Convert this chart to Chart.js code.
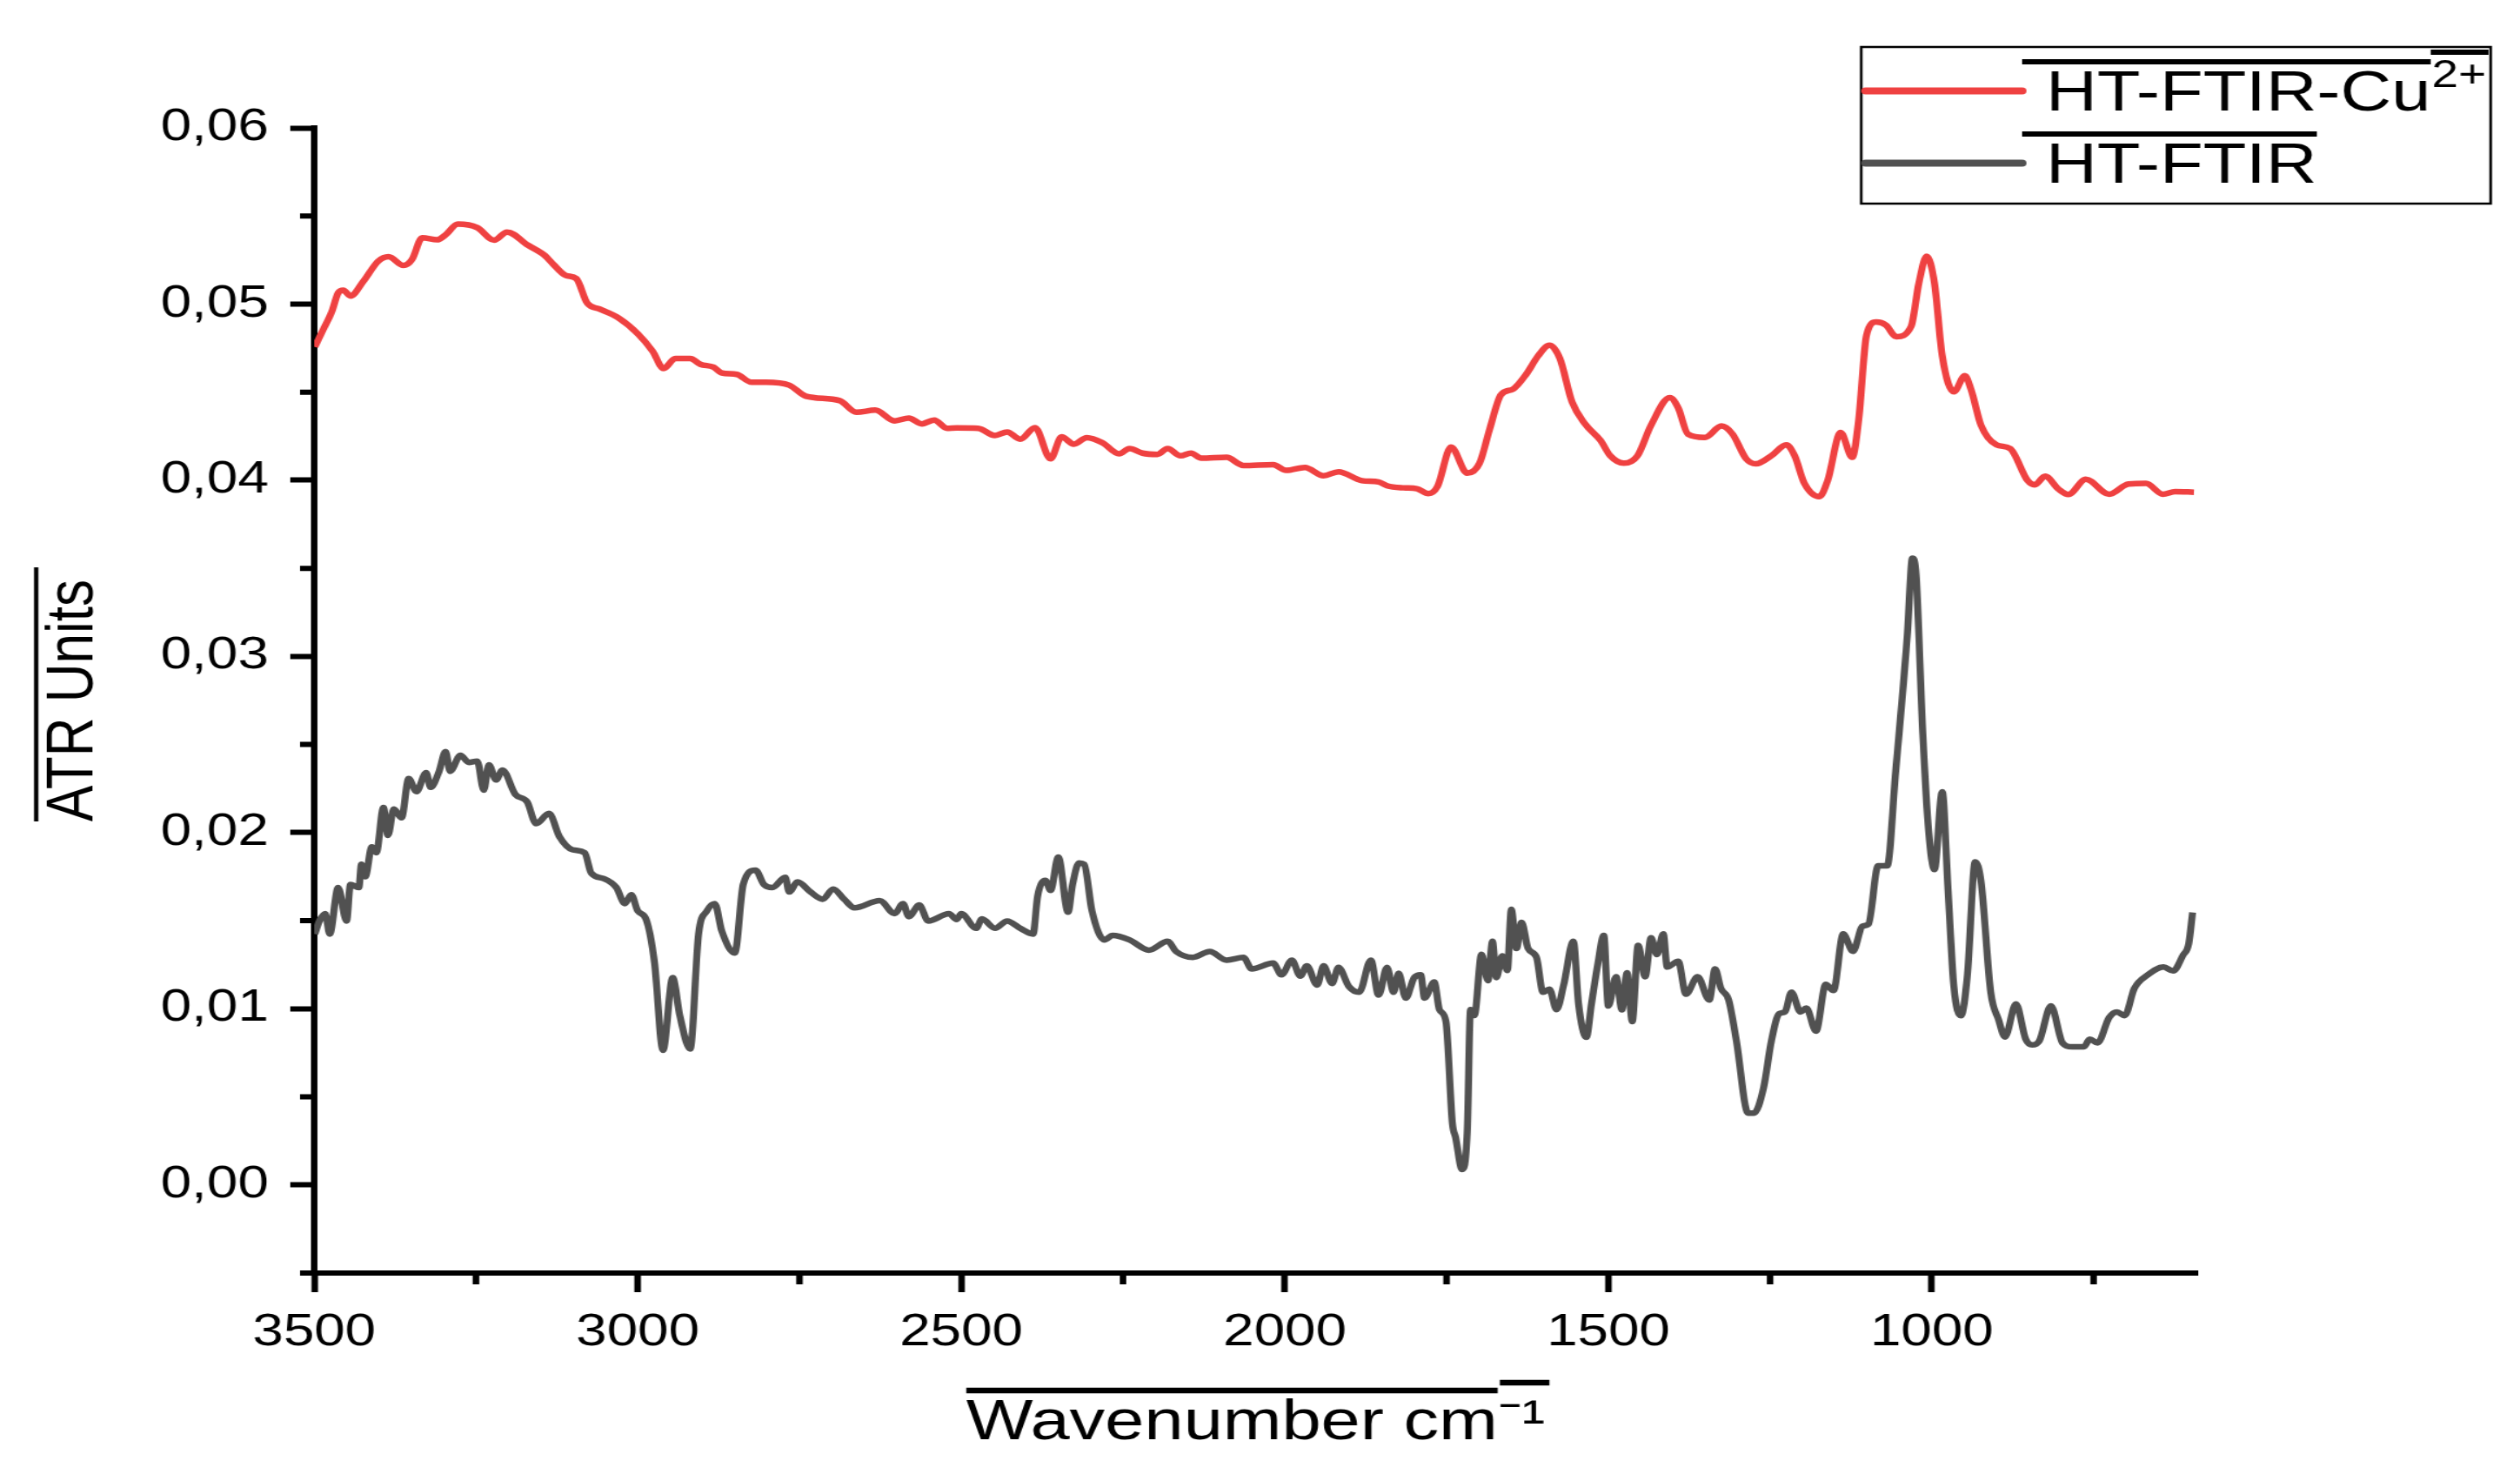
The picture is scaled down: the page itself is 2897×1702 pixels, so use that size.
<!DOCTYPE html>
<html>
<head>
<meta charset="utf-8">
<title>HT-FTIR ATR spectra</title>
<script src="https://cdn.jsdelivr.net/npm/chart.js@4.4.1/dist/chart.umd.min.js"></script>
<style>
  html, body { margin: 0; padding: 0; background: #fff; }
</style>
</head>
<body>
<!-- drawn a bit narrow and stretched sideways, like the Origin export -->
<canvas id="spectrum" width="2318" height="1702" style="display:block;width:2897px;height:1702px"></canvas>
<script>
// wavenumbers (cm-1) and ATR units
const cuWavenumber = [3499, 3486, 3473, 3463, 3455, 3444, 3424, 3401, 3385, 3362, 3349, 3333, 3310, 3297, 3278, 3248,
  3222, 3202, 3170, 3144, 3131, 3111, 3095, 3078, 3059, 3030, 3000, 2977, 2960, 2942, 2919, 2903, 2883, 2870, 2847,
  2824, 2802, 2766, 2740, 2688, 2662, 2633, 2603, 2581, 2561, 2542, 2522, 2507, 2474, 2448, 2429, 2409, 2386, 2362,
  2345, 2326, 2306, 2282, 2256, 2240, 2220, 2197, 2181, 2161, 2145, 2129, 2090, 2064, 2018, 1998, 1969, 1940, 1917,
  1881, 1855, 1842, 1816, 1796, 1778, 1764, 1743, 1718, 1699, 1683, 1666, 1647, 1627, 1608, 1591, 1575, 1556, 1536,
  1512, 1497, 1476, 1455, 1434, 1405, 1392, 1377, 1351, 1325, 1308, 1287, 1272, 1248, 1225, 1212, 1197, 1174, 1161,
  1141, 1123, 1113, 1101, 1086, 1071, 1055, 1032, 1020, 1008, 996, 984, 966, 949, 939, 924, 900, 879, 852, 841, 825,
  804, 789, 762, 726, 696, 669, 643, 624, 595];
const cuAbs = [0.04757, 0.04856, 0.04955, 0.05063, 0.05079, 0.05046, 0.05129, 0.05244, 0.05269, 0.05219, 0.05252,
  0.05376, 0.05365, 0.05393, 0.05454, 0.05434, 0.05363, 0.05409, 0.05335, 0.05277, 0.05228, 0.05162, 0.05145, 0.05005,
  0.04972, 0.04922, 0.04832, 0.04733, 0.04634, 0.04691, 0.04691, 0.04658, 0.04642, 0.04609, 0.04601, 0.04556, 0.04556,
  0.0454, 0.04477, 0.04452, 0.04386, 0.04398, 0.04337, 0.04353, 0.0432, 0.04342, 0.04295, 0.04297, 0.04295, 0.04254,
  0.04274, 0.04233, 0.04299, 0.04122, 0.04246, 0.04205, 0.04242, 0.04213, 0.0415, 0.0418, 0.04154, 0.04147, 0.0418,
  0.04139, 0.04154, 0.04125, 0.0413, 0.04084, 0.04089, 0.04056, 0.04073, 0.04026, 0.04048, 0.03998, 0.0399, 0.03969,
  0.03957, 0.03952, 0.03924, 0.03965, 0.04188, 0.0404, 0.04097, 0.04295, 0.04485, 0.04518, 0.04601, 0.04708, 0.04766,
  0.04692, 0.04444, 0.0432, 0.04226, 0.04139, 0.04097, 0.04139, 0.04312, 0.04469, 0.04411, 0.04262, 0.04243, 0.04308,
  0.04262, 0.04122, 0.04093, 0.04139, 0.04201, 0.04139, 0.03982, 0.03907, 0.03998, 0.04271, 0.0413, 0.04345, 0.04823,
  0.04898, 0.04881, 0.04815, 0.04873, 0.0512, 0.05272, 0.0512, 0.04708, 0.04502, 0.04593, 0.0451, 0.04312, 0.04201,
  0.0418, 0.03998, 0.03974, 0.04023, 0.03949, 0.03919, 0.04006, 0.03921, 0.03979, 0.03982, 0.03921, 0.03936, 0.03932];

const htWavenumber = [3499, 3492, 3483, 3476, 3463, 3450, 3444, 3431, 3427, 3421, 3411, 3404, 3393, 3386, 3377, 3365,
  3354, 3342, 3327, 3320, 3307, 3297, 3290, 3274, 3261, 3248, 3238, 3230, 3219, 3209, 3189, 3171, 3157, 3137, 3121,
  3101, 3082, 3072, 3052, 3033, 3020, 3010, 3000, 2987, 2974, 2961, 2946, 2935, 2919, 2906, 2893, 2881, 2870, 2850,
  2837, 2818, 2805, 2792, 2772, 2766, 2753, 2733, 2714, 2698, 2681, 2665, 2626, 2603, 2590, 2581, 2565, 2551, 2519,
  2507, 2500, 2477, 2468, 2448, 2429, 2409, 2389, 2382, 2370, 2362, 2350, 2335, 2328, 2318, 2310, 2298, 2279, 2266,
  2240, 2210, 2181, 2168, 2142, 2116, 2090, 2064, 2051, 2018, 2005, 1989, 1976, 1966, 1950, 1940, 1927, 1917, 1901,
  1885, 1867, 1855, 1842, 1832, 1824, 1813, 1800, 1790, 1784, 1769, 1761, 1751, 1741, 1736, 1726, 1718, 1713, 1707,
  1696, 1686, 1679, 1673, 1664, 1656, 1650, 1642, 1634, 1624, 1611, 1601, 1591, 1580, 1569, 1554, 1546, 1534, 1526,
  1516, 1507, 1500, 1488, 1479, 1471, 1463, 1454, 1443, 1434, 1425, 1415, 1409, 1392, 1380, 1362, 1344, 1335, 1326,
  1314, 1302, 1284, 1275, 1260, 1248, 1236, 1227, 1217, 1203, 1194, 1179, 1164, 1152, 1137, 1122, 1107, 1098, 1083,
  1069, 1056, 1038, 1030, 1025, 1014, 1005, 996, 984, 975, 966, 955, 945, 933, 924, 909, 897, 887, 870, 855, 845, 834,
  816, 798, 783, 765, 756, 744, 726, 714, 702, 687, 666, 642, 627, 612, 603, 597];
const htAbs = [0.01424, 0.01498, 0.0154, 0.01424, 0.01688, 0.01498, 0.01705, 0.01688, 0.0182, 0.0175, 0.01919, 0.01886,
  0.02142, 0.01985, 0.02134, 0.02084, 0.02307, 0.02233, 0.0234, 0.02257, 0.02348, 0.0246, 0.02348, 0.02439, 0.02398,
  0.02406, 0.02241, 0.02385, 0.02299, 0.02355, 0.02216, 0.02175, 0.02051, 0.02109, 0.01977, 0.01903, 0.01886, 0.01771,
  0.01738, 0.01688, 0.01597, 0.01647, 0.01556, 0.01507, 0.01259, 0.00764, 0.01177, 0.00962, 0.00772, 0.01424, 0.01556,
  0.01597, 0.0144, 0.01317, 0.01705, 0.01787, 0.01705, 0.01688, 0.01746, 0.01663, 0.0172, 0.01663, 0.01622, 0.0168,
  0.01622, 0.01573, 0.01614, 0.0154, 0.01597, 0.01523, 0.01589, 0.01498, 0.0154, 0.01507, 0.0154, 0.01457, 0.0151,
  0.01457, 0.01498, 0.01457, 0.01424, 0.01639, 0.01729, 0.01672, 0.01861, 0.01548, 0.01705, 0.01828, 0.0182, 0.01556,
  0.01391, 0.01416, 0.01391, 0.01333, 0.01383, 0.01325, 0.01292, 0.01325, 0.01276, 0.01292, 0.01226, 0.01259, 0.01193,
  0.01276, 0.01185, 0.01243, 0.01135, 0.01243, 0.01144, 0.01235, 0.01127, 0.01094, 0.01276, 0.01078, 0.01235, 0.01094,
  0.01201, 0.01061, 0.01177, 0.01193, 0.01061, 0.01152, 0.00995, 0.00929, 0.00351, 0.00269, 0.00088, 0.00302, 0.00995,
  0.00962, 0.01309, 0.0116, 0.01383, 0.01177, 0.013, 0.01218, 0.01564, 0.01342, 0.0149, 0.01342, 0.01292, 0.01094,
  0.01111, 0.00995, 0.01135, 0.01383, 0.01028, 0.00838, 0.01028, 0.01259, 0.01416, 0.01016, 0.01182, 0.00994, 0.01204,
  0.00928, 0.01359, 0.01182, 0.01403, 0.01308, 0.01425, 0.01237, 0.0127, 0.01083, 0.01182, 0.0105, 0.01226, 0.01116,
  0.0105, 0.00817, 0.00408, 0.00408, 0.00552, 0.00817, 0.00972, 0.00982, 0.01094, 0.00982, 0.01004, 0.00873, 0.01138,
  0.01104, 0.01425, 0.01326, 0.01469, 0.0148, 0.01812, 0.01812, 0.02342, 0.03116, 0.03558, 0.03492, 0.02563, 0.02011,
  0.0179, 0.02232, 0.01679, 0.01127, 0.00961, 0.01193, 0.01834, 0.01723, 0.01094, 0.00939, 0.0084, 0.01027, 0.00828,
  0.00795, 0.00817, 0.01016, 0.00806, 0.00784, 0.00784, 0.00828, 0.00806, 0.0095, 0.00982, 0.00961, 0.01116, 0.01193,
  0.01237, 0.01215, 0.01303, 0.0137, 0.01547];

const seriesNames = ['HT-FTIR-Cu', 'HT-FTIR'];
const seriesSup = ['2+', ''];
const seriesColors = ['#ef4141', '#515151'];

const xTicks = [3500, 3000, 2500, 2000, 1500, 1000];
const xMinorTicks = [3250, 2750, 2250, 1750, 1250, 750];
const yTicks = [0, 0.01, 0.02, 0.03, 0.04, 0.05, 0.06];
const yMinorTicks = [-0.005, 0.005, 0.015, 0.025, 0.035, 0.045, 0.055];

const FONT = "'Liberation Sans', Arial, sans-serif";
const xTitleMain = 'Wavenumber cm';
const xTitleSup = '\u207B\u00B9';
const xTitleSize = 65, xTitlePad = 27;
const yTitleText = 'ATR Units';
const yTitleSize = 62, yTitlePad = 31;

function toPoints(xs, ys) {
  return xs.map((x, i) => ({ x: x, y: ys[i] }));
}

function hLine(ctx, x1, x2, y) {
  ctx.beginPath();
  ctx.moveTo(x1, y);
  ctx.lineTo(x2, y);
  ctx.stroke();
}

// minor ticks, Origin style overlines and the boxed legend
const originExtras = {
  id: 'originExtras',
  afterDraw(chart) {
    const ctx = chart.ctx;
    const xs = chart.scales.x;
    const ys = chart.scales.y;
    ctx.save();
    ctx.strokeStyle = '#000';
    ctx.lineWidth = 6;
    ctx.beginPath();
    xMinorTicks.forEach(v => {
      const px = xs.getPixelForValue(v);
      ctx.moveTo(px, xs.top);
      ctx.lineTo(px, xs.top + 13);
    });
    yMinorTicks.forEach(v => {
      const py = ys.getPixelForValue(v);
      ctx.moveTo(ys.right, py);
      ctx.lineTo(ys.right - 13, py);
    });
    ctx.stroke();

    // overline on x title
    ctx.font = xTitleSize + 'px ' + FONT;
    ctx.textBaseline = 'middle';
    const fullW = ctx.measureText(xTitleMain + xTitleSup).width;
    const mainW = ctx.measureText(xTitleMain).width;
    const capX = ctx.measureText('W').actualBoundingBoxAscent;
    const ty = xs.bottom - xTitleSize * 1.2 / 2 - xTitlePad;
    const tx = (xs.left + xs.right) / 2 - fullW / 2;
    ctx.lineWidth = 6.5;
    hLine(ctx, tx, tx + mainW, ty - capX - 11);
    hLine(ctx, tx + mainW + 2, tx + fullW + 4, ty - capX - 20);

    // overline on y title (rotated)
    ctx.font = yTitleSize + 'px ' + FONT;
    const yW = ctx.measureText(yTitleText).width;
    const capY = ctx.measureText('A').actualBoundingBoxAscent;
    const yx = ys.left + yTitleSize * 1.2 / 2 + yTitlePad - capY - 10;
    const yc = (ys.top + ys.bottom) / 2;
    ctx.lineWidth = 4;
    ctx.beginPath();
    ctx.moveTo(yx, yc + yW / 2);
    ctx.lineTo(yx, yc - yW / 2 - 14);
    ctx.stroke();

    // legend box
    const box = { left: 1712, top: 54, right: 2291, bottom: 234 };
    ctx.lineWidth = 2.5;
    ctx.strokeRect(box.left, box.top, box.right - box.left, box.bottom - box.top);
    const baselines = [127, 210];
    chart.data.datasets.forEach((ds, i) => {
      const base = baselines[i];
      ctx.font = '65px ' + FONT;
      ctx.textBaseline = 'alphabetic';
      ctx.textAlign = 'left';
      const cap = ctx.measureText('H').actualBoundingBoxAscent;
      ctx.strokeStyle = ds.borderColor;
      ctx.lineWidth = 8;
      ctx.lineCap = 'round';
      hLine(ctx, box.left + 4, 1860, base - cap / 2);
      ctx.lineCap = 'butt';
      const textX = 1882;
      ctx.fillStyle = '#000';
      ctx.fillText(seriesNames[i], textX, base);
      const w = ctx.measureText(seriesNames[i]).width;
      ctx.strokeStyle = '#000';
      ctx.lineWidth = 6;
      hLine(ctx, textX - 22, textX + w, base - cap - 11);
      if (seriesSup[i]) {
        ctx.font = '44px ' + FONT;
        const sw = ctx.measureText(seriesSup[i]).width;
        ctx.fillText(seriesSup[i], textX + w + 1, base - 27);
        hLine(ctx, textX + w, textX + w + sw + 3, base - cap - 22);
      }
    });
    ctx.restore();
  }
};

const ctx = document.getElementById('spectrum').getContext('2d');
const chart = new Chart(ctx, {
  type: 'line',
  data: {
    datasets: [
      {
        label: seriesNames[0] + seriesSup[0],
        data: toPoints(cuWavenumber, cuAbs),
        borderColor: seriesColors[0],
        borderWidth: 6.5,
        pointRadius: 0,
        cubicInterpolationMode: 'monotone',
        fill: false
      },
      {
        label: seriesNames[1],
        data: toPoints(htWavenumber, htAbs),
        borderColor: seriesColors[1],
        borderWidth: 6.5,
        pointRadius: 0,
        cubicInterpolationMode: 'monotone',
        fill: false
      }
    ]
  },
  options: {
    responsive: false,
    animation: false,
    devicePixelRatio: 1,
    layout: { padding: { top: 147, right: 297, left: 0, bottom: 0 } },
    plugins: {
      legend: { display: false },
      tooltip: { enabled: false }
    },
    scales: {
      x: {
        type: 'linear',
        reverse: true,
        min: 590,
        max: 3500,
        border: { display: true, color: '#000', width: 6 },
        grid: { drawOnChartArea: false, drawTicks: true, tickLength: 22, tickWidth: 6, tickColor: '#000' },
        ticks: {
          color: '#000',
          padding: 16,
          maxRotation: 0,
          font: { family: FONT, size: 51 },
          callback: v => String(v)
        },
        title: {
          display: true,
          text: xTitleMain + xTitleSup,
          color: '#000',
          font: { family: FONT, size: xTitleSize },
          padding: { top: 0, bottom: xTitlePad }
        },
        afterBuildTicks: s => { s.ticks = xTicks.map(v => ({ value: v })); },
        afterFit: s => { s.height = 239; }
      },
      y: {
        type: 'linear',
        min: -0.005,
        max: 0.06,
        border: { display: true, color: '#000', width: 6 },
        grid: { drawOnChartArea: false, drawTicks: true, tickLength: 22, tickWidth: 6, tickColor: '#000' },
        ticks: {
          color: '#000',
          padding: 20,
          font: { family: FONT, size: 51 },
          callback: v => v.toFixed(2).replace('.', ',')
        },
        title: {
          display: true,
          text: yTitleText,
          color: '#000',
          font: { family: FONT, size: yTitleSize },
          padding: { top: yTitlePad, bottom: 0 }
        },
        afterBuildTicks: s => { s.ticks = yTicks.map(v => ({ value: v })); },
        afterFit: s => { s.width = 289; }
      }
    }
  },
  plugins: [originExtras]
});
</script>
</body>
</html>
